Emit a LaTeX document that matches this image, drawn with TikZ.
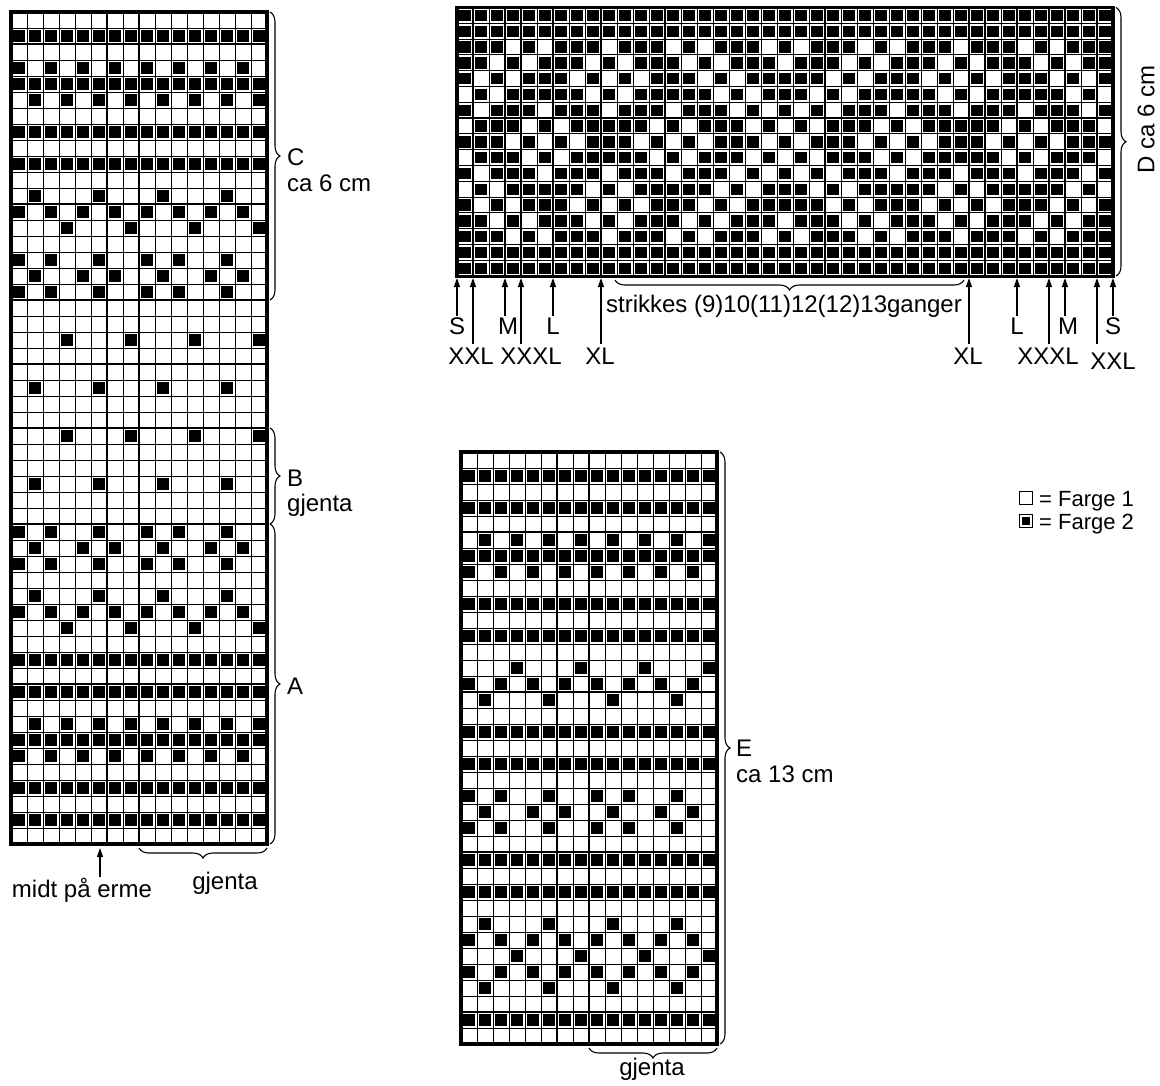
\documentclass[tikz,border=0pt]{standalone}
\usepackage{fontspec}
\setmainfont{Liberation Sans}
\usetikzlibrary{decorations.pathreplacing,arrows.meta}
\def\patB{1,...,16}
\def\patO{1,3,...,15}
\def\patE{2,4,...,16}
\def\patP{4,8,12,16}
\def\patQ{2,6,10,14}
\def\patX{1,3,6,9,11,14}
\def\patY{2,5,7,10,13,15}
\begin{document}
\begin{tikzpicture}[x=1pt,y=-1pt,
  gl/.style={line width=0.95pt},
  ml/.style={line width=1.6pt},
  tl/.style={line width=2.6pt},
  bl/.style={line width=3.2pt},
  lab/.style={font=\fontsize{24}{28}\selectfont, inner sep=0pt},
  leg/.style={font=\fontsize{22}{26}\selectfont, inner sep=0pt},
  br/.style={decorate, decoration={brace, amplitude=10pt}, line width=1.1pt},
  arr/.style={-{Triangle[length=9pt,width=6pt]}, line width=1.1pt}
]
\useasboundingbox (0,0) rectangle (1160,1085);
\fill[white] (0,0) rectangle (1160,1085);

% ---------------- left chart (A, B, C) ----------------
\foreach \r/\p in {2/B,4/O,5/B,6/E,8/B,10/B,12/Q,13/O,14/P,16/X,17/Y,18/X,21/P,24/Q,27/P,30/Q,33/X,34/Y,35/X,37/Q,38/O,39/P,41/B,43/B,45/E,46/B,47/O,49/B,51/B}{
  \edef\mylist{\csname pat\p\endcsname}
  \foreach \c in \mylist {\fill ({11+16*(\c-1)+2.3},{12+16*(\r-1)+2.3}) rectangle ++(11.4,11.4);}
}
\foreach \i in {0,...,16} \draw[gl] ({11+16*\i},12) -- ({11+16*\i},844);
\foreach \j in {0,...,52} \draw[gl] (11,{12+16*\j}) -- (267,{12+16*\j});
\draw[ml] (107,12) -- (107,844);
\foreach \y in {44,204,364,684} \draw[ml] (11,\y) -- (267,\y);
\draw[tl] (139,12) -- (139,844);
\foreach \y in {300,428,524} \draw[tl] (11,\y) -- (267,\y);
\draw[bl] (11,12) rectangle (267,844);

\coordinate (bC1) at (270,12);  \coordinate (bC2) at (270,300);
\coordinate (bB1) at (270,428); \coordinate (bB2) at (270,524);
\coordinate (bA1) at (270,524); \coordinate (bA2) at (270,844);
\draw[br] (bC1) -- (bC2);
\draw[br] (bB1) -- (bB2);
\draw[br] (bA1) -- (bA2);
\node[lab, anchor=base west] (lC) at (287,165) {C};
\node[lab, anchor=base west] (lC2) at (287,191) {ca 6 cm};
\node[lab, anchor=base west] (lB) at (287,486) {B};
\node[lab, anchor=base west] (lB2) at (287,511) {gjenta};
\node[lab, anchor=base west] (lA) at (287,694) {A};
\coordinate (bg1) at (267,848); \coordinate (bg2) at (139,848);
\draw[br] (bg1) -- (bg2);
\node[lab, anchor=base] (lg1) at (225,889) {gjenta};
\coordinate (mS) at (100,877); \coordinate (mE) at (100,848);
\draw[arr] (mS) -- (mE);
\node[lab, anchor=base] (lm) at (82,897) {midt på erme};

% ---------------- chart D ----------------
\foreach \r in {0,...,16} \foreach \c in {0,...,40}
  \fill ({457+16*\c+2.3},{7.5+15.8*\r+2.2}) rectangle ++(11.4,11.4);
\foreach \r/\l in {2/{3,5,9,13,15,19,21,25,27,31,35,37},14/{3,5,9,13,15,19,21,25,27,31,35,37},
  3/{2,4,8,10,14,16,20,24,26,30,32,36,38},13/{2,4,8,10,14,16,20,24,26,30,32,36,38},
  4/{1,3,7,9,11,15,17,23,25,29,31,33,37,39},12/{1,3,7,9,11,15,17,23,25,29,31,33,37,39},
  5/{0,2,8,10,16,18,22,24,30,32,38,40},11/{0,2,8,10,16,18,22,24,30,32,38,40},
  6/{1,5,9,13,17,19,21,23,27,31,35,39},10/{1,5,9,13,17,19,21,23,27,31,35,39},
  7/{0,4,6,12,14,18,20,22,26,28,34,36,40},9/{0,4,6,12,14,18,20,22,26,28,34,36,40},
  8/{3,5,7,11,13,15,19,21,25,27,29,33,35,37}}{
  \foreach \c in \l {\fill[white] ({457+16*\c+1},{7.5+15.8*\r+1}) rectangle ++(14,13.8);}
}
\foreach \i in {0,...,41} \draw[gl] ({457+16*\i},7.5) -- ({457+16*\i},276.1);
\foreach \j in {0,...,17} \draw[gl] (457,{7.5+15.8*\j}) -- (1113,{7.5+15.8*\j});
\foreach \i in {13,23,33} \draw[ml] ({457+16*\i},7.5) -- ({457+16*\i},276.1);
\draw[ml] (457,118.1) -- (1113,118.1);
\foreach \i in {1,3,4,6,9,32,35,37,38,40} \draw[tl] ({457+16*\i},7.5) -- ({457+16*\i},276.1);
\draw[bl] (457,7.5) rectangle (1113,276.1);

\coordinate (bD1) at (1116,7.5); \coordinate (bD2) at (1116,276);
\draw[br] (bD1) -- (bD2);
\node[lab, rotate=90] (lD) at (1146,119) {D ca 6 cm};
\coordinate (bs1) at (964,280); \coordinate (bs2) at (615,280);
\draw[br] (bs1) -- (bs2);
\node[lab, anchor=base] (ls) at (784,312) {strikkes (9)10(11)12(12)13ganger};

\foreach \n/\x/\y in {aS/457/316,aXXL/473/344,aM/505/316,aXXXL/521/344,aL/553/316,aXL/601/344,
  bXL/969/344,bL/1017/316,bXXXL/1049/344,bM/1065/316,bXXL/1097/344,bS/1113/316}{
  \coordinate (\n s) at (\x,\y);
  \coordinate (\n e) at (\x,278);
  \draw[arr] (\n s) -- (\n e);
}
\node[lab, anchor=base] (tS1) at (457,334) {S};
\node[lab, anchor=base] (tM1) at (508,334) {M};
\node[lab, anchor=base] (tL1) at (553,334) {L};
\node[lab, anchor=base] (tXXL1) at (471,364) {XXL};
\node[lab, anchor=base] (tXXXL1) at (531,364) {XXXL};
\node[lab, anchor=base] (tXL1) at (600,364) {XL};
\node[lab, anchor=base] (tXL2) at (968,364) {XL};
\node[lab, anchor=base] (tL2) at (1017,334) {L};
\node[lab, anchor=base] (tXXXL2) at (1048,364) {XXXL};
\node[lab, anchor=base] (tM2) at (1068,334) {M};
\node[lab, anchor=base] (tS2) at (1113,334) {S};
\node[lab, anchor=base] (tXXL2) at (1113,369) {XXL};

% ---------------- chart E ----------------
\foreach \r/\p in {1/B,3/B,5/E,6/B,7/O,9/B,11/B,13/P,14/O,15/Q,17/B,19/B,21/X,22/Y,23/X,25/B,27/B,29/Q,30/O,31/P,32/O,33/Q,35/B}{
  \edef\mylist{\csname pat\p\endcsname}
  \foreach \c in \mylist {\fill ({461+16*(\c-1)+2.3},{452+16*\r+2.3}) rectangle ++(11.4,11.4);}
}
\foreach \i in {0,...,16} \draw[gl] ({461+16*\i},452) -- ({461+16*\i},1044);
\foreach \j in {0,...,37} \draw[gl] (461,{452+16*\j}) -- (717,{452+16*\j});
\draw[ml] (557,452) -- (557,1044);
\foreach \y in {532,692,852,1012} \draw[ml] (461,\y) -- (717,\y);
\draw[tl] (589,452) -- (589,1044);
\draw[bl] (461,452) rectangle (717,1044);

\coordinate (bE1) at (720,452); \coordinate (bE2) at (720,1044);
\draw[br] (bE1) -- (bE2);
\node[lab, anchor=base west] (lE) at (736,756) {E};
\node[lab, anchor=base west] (lE2) at (736,782) {ca 13 cm};
\coordinate (bh1) at (717,1048); \coordinate (bh2) at (589,1048);
\draw[br] (bh1) -- (bh2);
\node[lab, anchor=base] (lg2) at (652,1075) {gjenta};

% ---------------- legend ----------------
\node[draw, line width=1pt, minimum size=13pt, inner sep=0pt] (sq1) at (1026,498) {};
\node[draw, line width=1pt, minimum size=13pt, inner sep=0pt] (sq2) at (1026,521) {};
\node[fill=black, minimum size=8pt, inner sep=0pt] (sq2i) at (sq2.center) {};
\node[leg, anchor=base west] (f1) at (1039,506) {= Farge 1};
\node[leg, anchor=base west] (f2) at (1039,529) {= Farge 2};
\end{tikzpicture}
\end{document}
